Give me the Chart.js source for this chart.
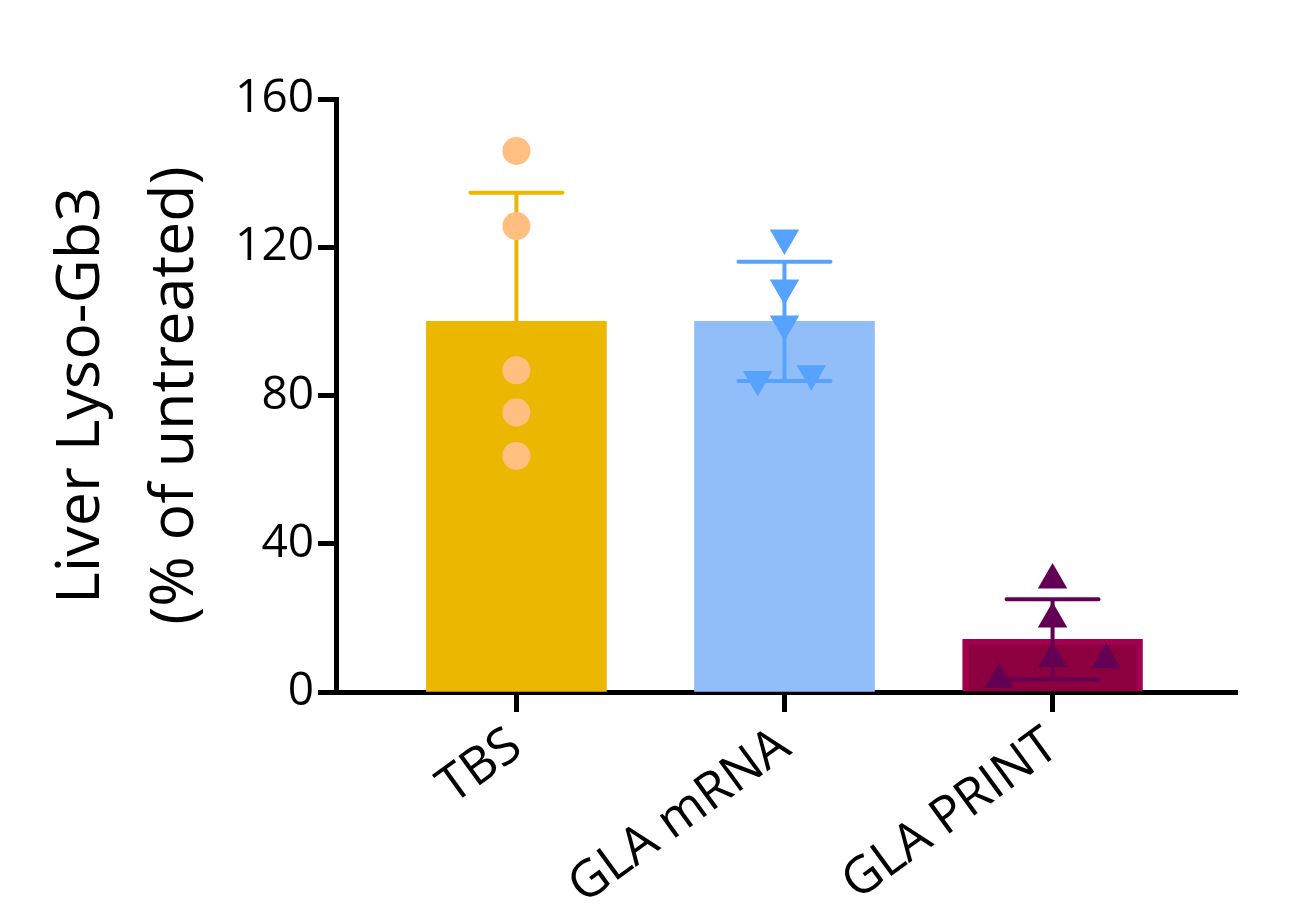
<!DOCTYPE html>
<html>
<head>
<meta charset="utf-8">
<script src="https://cdn.jsdelivr.net/npm/chart.js@4/dist/chart.umd.min.js"></script>
<style>
  html, body { margin: 0; padding: 0; background: #fff; }
  #wrap { width: 1291px; height: 923px; }
</style>
</head>
<body>
<div id="wrap"><canvas id="chart"></canvas></div>
<script>
// groups and summary values (mean, SD)
const groups = ["TBS", "GLA mRNA", "GLA PRINT"];
const means = [100, 100, 14.2];
const sds = [34.7, 16.1, 10.8];

// individual animals
const tbsValues = [146.0, 125.7, 86.8, 75.4, 63.7];
const tbsOffsets = [0, 0, 0, 0, 0];
const mrnaValues = [122.5, 109.0, 99.3, 84.3, 85.9];
const mrnaOffsets = [0, 0, 0, -0.1, 0.1];
const printValues = [30.2, 19.7, 9.0, 3.4, 8.7];
const printOffsets = [0, 0, 0, -0.2, 0.2];

const yTicks = [0, 40, 80, 120, 160];

const barColors = ["#EBB700", "#91BEF9", "#8D0040"];
const errColors = ["#EBB700", "#56A2FF", "#640053"];

function points(groupIdx, values, offsets){
  return values.map((v, i) => ({ x: groupIdx + offsets[i], y: v }));
}

// error bars (mean ± SD), drawn right after the bars
const errorBars = {
  id: "errorBars",
  afterDatasetDraw(chart, args){
    if(args.index !== 3) return;
    const ctx = chart.ctx;
    const xs = chart.scales.x, ys = chart.scales.y;
    ctx.save();
    ctx.lineWidth = 4;
    ctx.lineCap = "round";
    means.forEach((m, i) => {
      const x = xs.getPixelForValue(i);
      const top = ys.getPixelForValue(m + sds[i]);
      const bot = ys.getPixelForValue(Math.max(m - sds[i], 0));
      ctx.strokeStyle = errColors[i];
      ctx.beginPath();
      ctx.moveTo(x, top); ctx.lineTo(x, bot);
      ctx.moveTo(x - 46, top); ctx.lineTo(x + 46, top);
      ctx.moveTo(x - 46, bot); ctx.lineTo(x + 46, bot);
      ctx.stroke();
    });
    ctx.restore();
  }
};

new Chart(document.getElementById("chart"), {
  type: "bar",
  data: {
    datasets: [
      {
        type: "scatter",
        data: points(0, tbsValues, tbsOffsets),
        pointStyle: "circle",
        pointRadius: 14,
        backgroundColor: "#FFBF80",
        borderWidth: 0,
        order: 0
      },
      {
        type: "scatter",
        data: points(1, mrnaValues, mrnaOffsets),
        pointStyle: "triangle",
        rotation: 180,
        pointRadius: 17,
        backgroundColor: "#56A2FF",
        borderWidth: 0,
        order: 0
      },
      {
        type: "scatter",
        data: points(2, printValues, printOffsets),
        pointStyle: "triangle",
        pointRadius: 17,
        backgroundColor: "#640053",
        borderWidth: 0,
        order: 0
      },
      {
        type: "bar",
        data: means.map((m, i) => ({ x: i, y: m })),
        backgroundColor: barColors,
        borderColor: ["#EBB700", "#91BEF9", "#A0004E"],
        borderWidth: [0, 0, 6],
        borderSkipped: "bottom",
        barThickness: 180,
        order: 1
      }
    ]
  },
  options: {
    responsive: true,
    maintainAspectRatio: false,
    animation: false,
    layout: { padding: { top: 99, right: 54, left: 0, bottom: 0 } },
    plugins: {
      legend: { display: false },
      tooltip: { enabled: false }
    },
    scales: {
      x: {
        type: "linear",
        offset: false,
        min: -0.673,
        max: 2.688,
        afterBuildTicks: s => { s.ticks = groups.map((g, i) => ({ value: i })); },
        afterFit: s => { s.height = 231; },
        ticks: {
          callback: v => groups[v],
          minRotation: 36,
          maxRotation: 36,
          padding: 4,
          color: "#000",
          font: { family: "Open Sans", size: 51 }
        },
        grid: {
          offset: false,
          drawOnChartArea: false,
          drawTicks: true,
          tickLength: 20,
          tickWidth: 5,
          tickColor: "#000"
        },
        border: { display: true, color: "#000", width: 5 }
      },
      y: {
        min: 0,
        max: 160,
        afterBuildTicks: s => { s.ticks = yTicks.map(v => ({ value: v })); },
        afterFit: s => { s.width = 336; },
        ticks: {
          padding: 4,
          color: "#000",
          font: { family: "Open Sans", size: 46 }
        },
        grid: {
          drawOnChartArea: false,
          drawTicks: true,
          tickLength: 18,
          tickWidth: 5,
          tickColor: "#000"
        },
        border: { display: true, color: "#000", width: 5 },
        title: {
          display: true,
          text: ["Liver Lyso-Gb3", "(% of untreated)"],
          color: "#000",
          padding: { top: 34, bottom: 0 },
          font: { family: "Open Sans", size: 61, lineHeight: 1.55 }
        }
      }
    }
  },
  plugins: [errorBars]
});
</script>
</body>
</html>
